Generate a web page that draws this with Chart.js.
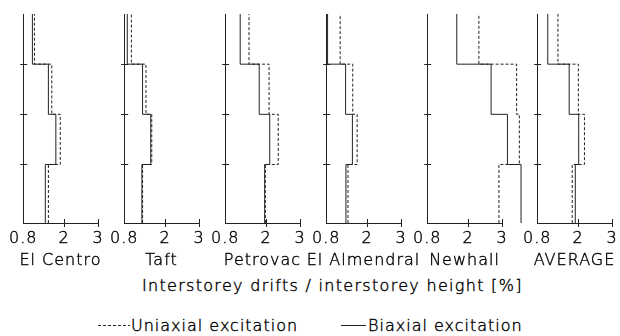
<!DOCTYPE html>
<html>
<head>
<meta charset="utf-8">
<script src="https://cdn.jsdelivr.net/npm/chart.js@4.4.0/dist/chart.umd.min.js"></script>
<style>
  body { margin: 0; background: #fff; }
  #wrap {
    position: relative; width: 620px; height: 336px; overflow: hidden;
    font-family: "DejaVu Sans", sans-serif; font-size: 16px; font-weight: 200;
    letter-spacing: 1px; color: #000;
  }
  #wrap canvas { position: absolute; top: 0; }
  .txt { position: absolute; white-space: nowrap; line-height: 19px; -webkit-text-stroke: 0.4px #000; }
  .name { transform: translateX(-50%); top: 250px; }
</style>
</head>
<body>
<div id="wrap">
  <div class="txt" style="left:142px; top:276px; letter-spacing:1.3px;">Interstorey drifts / interstorey height [%]</div>
  <svg style="position:absolute; left:0; top:0;" width="620" height="336">
    <line x1="98" y1="325.5" x2="130" y2="325.5" stroke="#222" stroke-width="1" stroke-dasharray="3,2"/>
    <line x1="341" y1="325.5" x2="366" y2="325.5" stroke="#222" stroke-width="1"/>
  </svg>
  <div class="txt" style="left:131px; top:316px;">Uniaxial excitation</div>
  <div class="txt" style="left:368px; top:316px;">Biaxial excitation</div>
</div>
<script>
// storey heights [m], ground to roof
const storeyLevels = [0, 3.5, 6.5, 9.5, 12.5];
const xTicks = [0.8, 2, 3];
const records = ['El Centro', 'Taft', 'Petrovac', 'El Almendral', 'Newhall', 'AVERAGE'];

// interstorey drift [%] per storey, ground storey first
const elCentroUni = [1.54, 1.89, 1.64, 1.13];
const elCentroBi = [1.45, 1.76, 1.54, 1.07];
const taftUni = [1.34, 1.61, 1.44, 1.01];
const taftBi = [1.32, 1.58, 1.34, 0.89];
const petrovacUni = [1.98, 2.36, 2.09, 1.50];
const petrovacBi = [1.96, 2.11, 1.80, 1.24];
const almendralUni = [1.44, 1.71, 1.58, 1.21];
const almendralBi = [1.38, 1.57, 1.37, 0.84];
const newhallUni = [2.91, 3.51, 3.43, 2.32];
const newhallBi = [3.56, 3.16, 2.68, 1.67];
const averageUni = [1.83, 2.19, 2.01, 1.41];
const averageBi = [1.92, 2.02, 1.74, 1.11];

const uniSeries = [elCentroUni, taftUni, petrovacUni, almendralUni, newhallUni, averageUni];
const biSeries = [elCentroBi, taftBi, petrovacBi, almendralBi, newhallBi, averageBi];

// left edge of each panel's drift axis
const panelLeft = [23, 124, 225, 326, 427, 537];
const PAD_L = 20, PAD_R = 28, AXIS_W = 75;

function stepPoints(drifts) {
  const pts = [];
  drifts.forEach((d, i) => {
    pts.push({ x: d, y: storeyLevels[i] });
    pts.push({ x: d, y: storeyLevels[i + 1] });
  });
  return pts;
}

// small tick marks drawn across the axis lines
const crossTicks = {
  id: 'crossTicks',
  beforeDraw(chart) { chart.ctx.letterSpacing = '1px'; },
  afterDraw(chart) {
    const { ctx, chartArea } = chart;
    const x = chart.scales.x, y = chart.scales.y;
    ctx.save();
    ctx.strokeStyle = '#222';
    ctx.lineWidth = 1;
    ctx.beginPath();
    x.ticks.forEach(t => {
      if (t.value === x.min) return;
      const px = Math.round(x.getPixelForValue(t.value)) + 0.5;
      ctx.moveTo(px, chartArea.bottom - 4);
      ctx.lineTo(px, chartArea.bottom + 4);
    });
    y.ticks.forEach(t => {
      const py = Math.round(y.getPixelForValue(t.value)) + 0.5;
      ctx.moveTo(chartArea.left - 3, py);
      ctx.lineTo(chartArea.left + 4, py);
    });
    ctx.stroke();
    ctx.restore();
  }
};

const wrap = document.getElementById('wrap');

records.forEach((name, i) => {
  const canvas = document.createElement('canvas');
  canvas.width = PAD_L + AXIS_W + PAD_R;
  canvas.height = 336;
  canvas.style.left = (panelLeft[i] - PAD_L) + 'px';
  wrap.appendChild(canvas);

  const label = document.createElement('div');
  label.className = 'txt name';
  label.style.left = (panelLeft[i] + AXIS_W / 2) + 'px';
  label.textContent = name;
  wrap.appendChild(label);

  new Chart(canvas, {
    type: 'scatter',
    data: {
      datasets: [{
        label: 'Uniaxial excitation',
        data: stepPoints(uniSeries[i]),
        showLine: true,
        borderColor: '#222',
        borderWidth: 1,
        borderDash: [3, 2],
        pointRadius: 0,
        clip: false
      }, {
        label: 'Biaxial excitation',
        data: stepPoints(biSeries[i]),
        showLine: true,
        borderColor: '#222',
        borderWidth: 1,
        pointRadius: 0,
        clip: false
      }]
    },
    options: {
      responsive: false,
      animation: false,
      events: [],
      layout: { padding: { left: 0, top: 14, right: PAD_R, bottom: 0 } },
      plugins: { legend: { display: false }, tooltip: { enabled: false } },
      scales: {
        x: {
          type: 'linear', min: 0.8, max: 3,
          afterBuildTicks: s => { s.ticks = xTicks.map(v => ({ value: v })); },
          afterFit: s => { s.height = 336 - 223; },
          grid: { display: false, drawTicks: false },
          border: { display: true, color: '#222', width: 1 },
          ticks: {
            color: '#000', padding: 6, autoSkip: false, maxRotation: 0,
            textStrokeColor: '#000', textStrokeWidth: 0.4,
            font: { family: 'DejaVu Sans', size: 16, weight: 200 },
            callback: v => String(v)
          }
        },
        y: {
          type: 'linear', min: 0, max: 12.5,
          afterBuildTicks: s => { s.ticks = storeyLevels.slice(1, -1).map(v => ({ value: v })); },
          afterFit: s => { s.width = PAD_L; },
          grid: { display: false, drawTicks: false },
          border: { display: true, color: '#222', width: 1 },
          ticks: { display: false }
        }
      }
    },
    plugins: [crossTicks]
  });
});
</script>
</body>
</html>
